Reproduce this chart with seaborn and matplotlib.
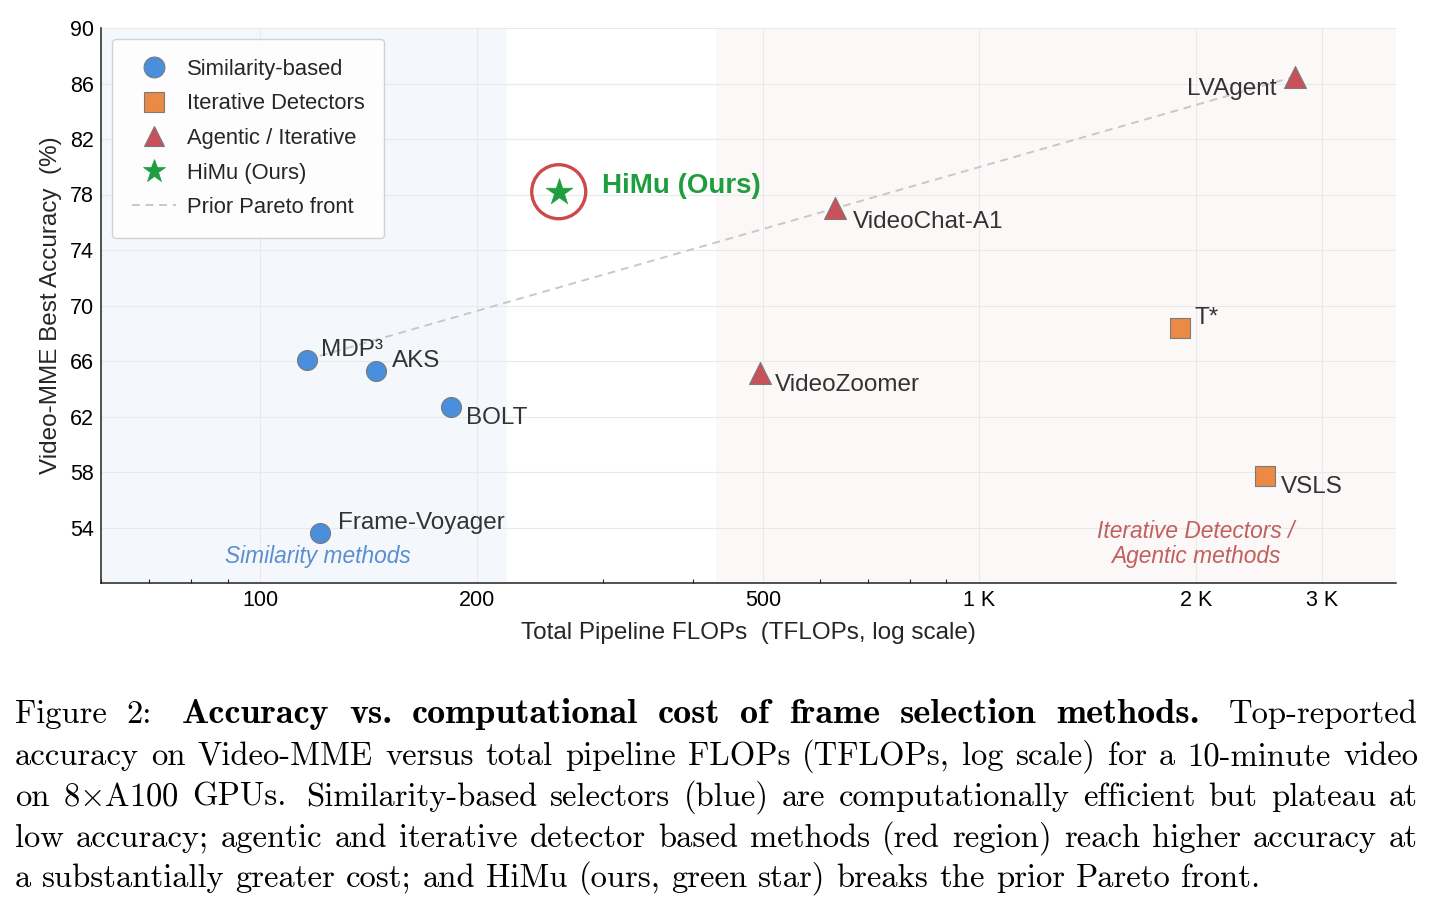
import matplotlib
matplotlib.use("Agg")
import matplotlib.pyplot as plt
from matplotlib.lines import Line2D
from matplotlib.ticker import FixedLocator, FixedFormatter
import pandas as pd
import seaborn as sns

# --- data (TFLOPs, Video-MME accuracy %) ---
sim_names = ["MDP³", "AKS", "BOLT", "Frame-Voyager"]
sim_flops = [116, 145, 184, 121]
sim_acc = [66.1, 65.3, 62.7, 53.6]

det_names = ["T*", "VSLS"]
det_flops = [1900, 2500]
det_acc = [68.4, 57.7]

agent_names = ["VideoZoomer", "VideoChat-A1", "LVAgent"]
agent_flops = [495, 630, 2750]
agent_acc = [65.1, 77.0, 86.5]

himu_flops = [260]
himu_acc = [78.2]

pareto_names = ["MDP³", "VideoChat-A1", "LVAgent"]

xticks = [100, 200, 500, 1000, 2000, 3000]
xtick_labels = ["100", "200", "500", "1 K", "2 K", "3 K"]
yticks = [54, 58, 62, 66, 70, 74, 78, 82, 86, 90]
sim_region = (60, 220)
agent_region = (430, 3800)

c_blue = "#4a8fdb"
c_orange = "#ea8a45"
c_red = "#c8515a"
c_green = "#1f9e40"

sns.set_theme(style="white")
plt.rcParams["font.family"] = ["Liberation Sans", "DejaVu Sans"]
plt.rcParams["mathtext.fontset"] = "cm"

fig = plt.figure(figsize=(14.35, 9.10), dpi=100)
ax = fig.add_axes([101 / 1435, 1 - 583 / 910, (1396 - 101) / 1435, (583 - 28) / 910])

ax.axvspan(*sim_region, color=c_blue, alpha=0.06, lw=0, zorder=0)
ax.axvspan(*agent_region, color="#c0504d", alpha=0.04, lw=0, zorder=0)

rows = []
for n, x, y in zip(sim_names, sim_flops, sim_acc):
    rows.append((n, x, y, "Similarity-based"))
for n, x, y in zip(det_names, det_flops, det_acc):
    rows.append((n, x, y, "Iterative Detectors"))
for n, x, y in zip(agent_names, agent_flops, agent_acc):
    rows.append((n, x, y, "Agentic / Iterative"))
df = pd.DataFrame(rows, columns=["name", "flops", "acc", "group"])

# prior pareto front
pf = df.set_index("name").loc[pareto_names]
sns.lineplot(x=pf["flops"].values, y=pf["acc"].values, ax=ax, color="#c8c8c8",
             linestyle=(0, (4, 3)), linewidth=1.4, zorder=2, sort=False)

styles = {
    "Similarity-based": ("o", c_blue, 207),
    "Iterative Detectors": ("s", c_orange, 228),
    "Agentic / Iterative": ("^", c_red, 250),
}
for g, (m, c, s) in styles.items():
    sub = df[df["group"] == g]
    sns.scatterplot(data=sub, x="flops", y="acc", ax=ax, marker=m, color=c, s=s,
                    edgecolor="#7a7a7a", linewidth=0.8, zorder=4, legend=False)

himu = pd.DataFrame({"flops": himu_flops, "acc": himu_acc})
sns.scatterplot(data=himu, x="flops", y="acc", ax=ax, marker="*", color=c_green, s=400,
                edgecolor=c_green, linewidth=0.5, zorder=5, legend=False)
ax.scatter(himu_flops, himu_acc, s=1513, facecolors="none", edgecolors="#cc4a4a",
           linewidths=2.4, zorder=5)

offsets = {
    "MDP³": (10, 7, "left"),
    "AKS": (11, 7, "left"),
    "BOLT": (11, -8, "left"),
    "Frame-Voyager": (13, 7, "left"),
    "VideoChat-A1": (13, -10, "left"),
    "LVAgent": (-13, -9, "right"),
    "VideoZoomer": (11, -8, "left"),
    "T*": (11, 7, "left"),
    "VSLS": (11, -8, "left"),
}
for _, r in df.iterrows():
    dx, dy, ha = offsets[r["name"]]
    ax.annotate(r["name"], (r["flops"], r["acc"]), xytext=(dx, dy), textcoords="offset points",
                ha=ha, va="center", fontsize=17.5, color="#333333", zorder=6)
ax.annotate("HiMu (Ours)", (himu_flops[0], himu_acc[0]), xytext=(31, 4), textcoords="offset points",
            ha="left", va="center", fontsize=20, fontweight="bold", color=c_green, zorder=6)

ax.text(120, 51.9, "Similarity methods", ha="center", va="center", fontsize=16.4,
        style="italic", color="#5b8fd0")
ax.text(2000, 52.8, "Iterative Detectors /\nAgentic methods", ha="center", va="center",
        fontsize=16.4, style="italic", color="#c0605f", linespacing=1.1)

ax.set_xscale("log")
ax.set_xlim(sim_region[0], agent_region[1])
ax.set_ylim(50, 90)
ax.xaxis.set_major_locator(FixedLocator(xticks))
ax.xaxis.set_major_formatter(FixedFormatter(xtick_labels))
ax.xaxis.set_minor_formatter(FixedFormatter([]))
ax.set_yticks(yticks)
ax.grid(True, which="major", color="#e9e9e9", linewidth=0.8, zorder=1)
ax.set_axisbelow(True)
ax.tick_params(axis="both", which="major", direction="in", length=5, width=1,
               labelsize=15.5, pad=5, colors="#222222", labelcolor="black")
ax.tick_params(axis="x", which="minor", direction="in", length=3, width=0.8, colors="#222222")
ax.tick_params(axis="x", which="minor", bottom=True)
for sp in ["top", "right"]:
    ax.spines[sp].set_visible(False)
for sp in ["left", "bottom"]:
    ax.spines[sp].set_color("#222222")
    ax.spines[sp].set_linewidth(1.1)

ax.set_xlabel("Total Pipeline FLOPs  (TFLOPs, log scale)", fontsize=17.5, labelpad=8)
ax.set_ylabel("Video-MME Best Accuracy  (%)", fontsize=17.5, labelpad=6)

handles = [
    Line2D([], [], ls="none", marker="o", ms=15, mfc=c_blue, mec="#7a7a7a", mew=0.8),
    Line2D([], [], ls="none", marker="s", ms=15, mfc=c_orange, mec="#7a7a7a", mew=0.8),
    Line2D([], [], ls="none", marker="^", ms=15, mfc=c_red, mec="#7a7a7a", mew=0.8),
    Line2D([], [], ls="none", marker="*", ms=17, mfc=c_green, mec=c_green, mew=0.5),
    Line2D([], [], color="#c8c8c8", ls=(0, (4, 3)), lw=1.4),
]
labels = ["Similarity-based", "Iterative Detectors", "Agentic / Iterative", "HiMu (Ours)",
          "Prior Pareto front"]
leg = ax.legend(handles, labels, loc="upper left", fontsize=15.8, frameon=True, fancybox=True,
                framealpha=0.85, facecolor="white", edgecolor="#cccccc", labelspacing=0.62,
                handletextpad=0.5, borderpad=0.9)
leg.get_frame().set_linewidth(1.0)

# --- caption below the chart, justified like the paper ---
cap_lines = [
    [("Figure", 0), ("2:", 0), ("Accuracy", 1), ("vs.", 1), ("computational", 1), ("cost", 1),
     ("of", 1), ("frame", 1), ("selection", 1), ("methods.", 1), ("Top-reported", 0)],
    [(w, 0) for w in "accuracy on Video-MME versus total pipeline FLOPs (TFLOPs, log scale) for a 10-minute video".split()],
    [(w, 0) for w in r"on 8$\times$A100 GPUs. Similarity-based selectors (blue) are computationally efficient but plateau at".split()],
    [(w, 0) for w in "low accuracy; agentic and iterative detector based methods (red region) reach higher accuracy at".split()],
    [(w, 0) for w in "a substantially greater cost; and HiMu (ours, green star) breaks the prior Pareto front.".split()],
]
baselines = [723, 765, 806, 847, 887]
cap_size = 23.5
bold_size = 26
x0, x1 = 15, 1418
renderer = fig.canvas.get_renderer()
for li, (words, yb) in enumerate(zip(cap_lines, baselines)):
    texts = []
    for w, bold in words:
        t = fig.text(0, 1 - yb / 910, w, fontfamily="cmb10" if bold else "cmr10",
                     fontsize=bold_size if bold else cap_size, va="baseline", ha="left",
                     color="black")
        texts.append(t)
    widths = [t.get_window_extent(renderer).width for t in texts]
    weights = []
    for w, _ in words[:-1]:
        weights.append(1.5 if (w.endswith(":") or (w.endswith(".") and w != "vs.")) else 1.0)
    if li < len(cap_lines) - 1:
        unit = (x1 - x0 - sum(widths)) / sum(weights)
    else:
        unit = 0.333 * cap_size / 72 * 100
    x = x0
    for i, t in enumerate(texts):
        t.set_x(x / 1435)
        x += widths[i]
        if i < len(weights):
            x += unit * weights[i]

fig.savefig("out.png", dpi=100)
